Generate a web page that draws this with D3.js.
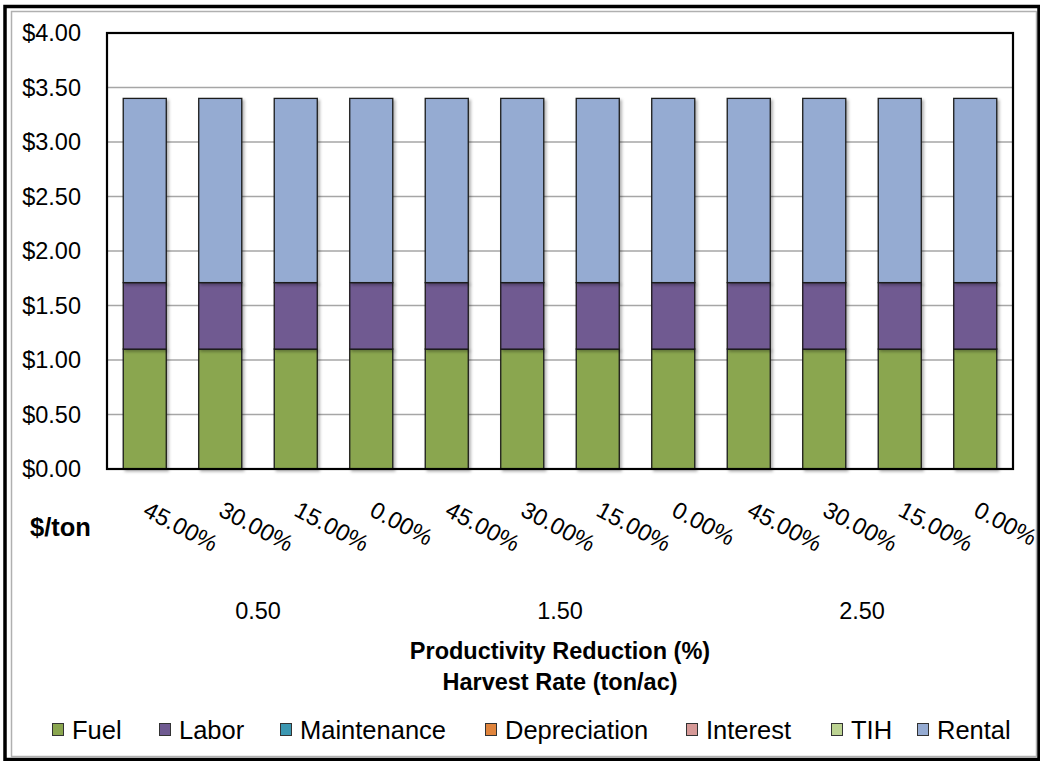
<!DOCTYPE html>
<html><head><meta charset="utf-8">
<script src="https://cdn.jsdelivr.net/npm/d3@7"></script>
<style>
html,body{margin:0;padding:0;background:#fff;}
svg{display:block;font-family:"Liberation Sans",Arial,sans-serif;}
</style></head>
<body>
<svg id="chart" width="1040" height="761"></svg>
<script>
const harvestRates = ["0.50", "1.50", "2.50"];
const reductions = ["45.00%", "30.00%", "15.00%", "0.00%"];
const seriesNames = ["Fuel", "Labor", "Maintenance", "Depreciation", "Interest", "TIH", "Rental"];
const seriesColors = ["#8aa64f", "#6f5a91", "#3b97b1", "#e0843c", "#d69997", "#bcd392", "#95abd2"];
const fuel         = [1.10, 1.10, 1.10, 1.10, 1.10, 1.10, 1.10, 1.10, 1.10, 1.10, 1.10, 1.10];
const labor        = [0.61, 0.61, 0.61, 0.61, 0.61, 0.61, 0.61, 0.61, 0.61, 0.61, 0.61, 0.61];
const maintenance  = [0, 0, 0, 0, 0, 0, 0, 0, 0, 0, 0, 0];
const depreciation = [0, 0, 0, 0, 0, 0, 0, 0, 0, 0, 0, 0];
const interest     = [0, 0, 0, 0, 0, 0, 0, 0, 0, 0, 0, 0];
const tih          = [0, 0, 0, 0, 0, 0, 0, 0, 0, 0, 0, 0];
const rental       = [1.69, 1.69, 1.69, 1.69, 1.69, 1.69, 1.69, 1.69, 1.69, 1.69, 1.69, 1.69];
const yTicks = [0, 0.5, 1, 1.5, 2, 2.5, 3, 3.5, 4];

const seriesValues = [fuel, labor, maintenance, depreciation, interest, tih, rental];
const categories = [];
harvestRates.forEach(h => reductions.forEach(r => categories.push(h + "|" + r)));
const rows = categories.map((c, i) => {
  const o = {cat: c};
  seriesNames.forEach((s, k) => o[s] = seriesValues[k][i]);
  return o;
});

const svg = d3.select("#chart");
const plot = {left: 107, right: 1013, top: 33, bottom: 469};
const FONT = "Liberation Sans, Arial, sans-serif";

// frame
svg.append("rect").attr("x", 11.5).attr("y", 11.5).attr("width", 1025).attr("height", 745)
  .attr("fill", "none").attr("stroke", "#b0b0b0").attr("stroke-width", 1.5);
svg.append("rect").attr("x", 5).attr("y", 6.5).attr("width", 1034).attr("height", 753)
  .attr("fill", "none").attr("stroke", "#000").attr("stroke-width", 3.5);

const defs = svg.append("defs");
const f = defs.append("filter").attr("id", "sh").attr("x", "-20%").attr("y", "-20%").attr("width", "140%").attr("height", "140%");
f.append("feDropShadow").attr("dx", 2).attr("dy", 2).attr("stdDeviation", 1.5).attr("flood-color", "#000").attr("flood-opacity", 0.3);

const x = d3.scaleBand().domain(categories).range([plot.left, plot.right]).paddingInner(0.43).paddingOuter(0.215);
const y = d3.scaleLinear().domain([0, 4]).range([plot.bottom, plot.top]);

// gridlines
svg.append("g").selectAll("line").data(yTicks.filter(t => t > 0 && t < 4)).join("line")
  .attr("x1", plot.left).attr("x2", plot.right)
  .attr("y1", d => y(d)).attr("y2", d => y(d))
  .attr("stroke", "#a6a6a6").attr("stroke-width", 1.5);

// stacks
const stacked = d3.stack().keys(seriesNames)(rows);
const gBars = svg.append("g");
stacked.forEach((layer, k) => {
  gBars.append("g").attr("filter", "url(#sh)").selectAll("rect")
    .data(layer.filter(d => d[1] - d[0] > 0)).join("rect")
    .attr("x", d => x(d.data.cat))
    .attr("width", x.bandwidth())
    .attr("y", d => y(d[1]))
    .attr("height", d => y(d[0]) - y(d[1]))
    .attr("fill", seriesColors[k])
    .attr("stroke", "#1a1a1a").attr("stroke-width", 1.3);
});

// plot border
svg.append("rect").attr("x", plot.left).attr("y", plot.top)
  .attr("width", plot.right - plot.left).attr("height", plot.bottom - plot.top)
  .attr("fill", "none").attr("stroke", "#000").attr("stroke-width", 2.2);

// y axis labels
const yAxis = d3.axisLeft(y).tickValues(yTicks).tickFormat(d => "$" + d3.format(".2f")(d)).tickSize(0).tickPadding(26);
const gy = svg.append("g").attr("transform", `translate(${plot.left},0)`).call(yAxis);
gy.select(".domain").remove();
gy.selectAll("text").attr("font-size", 23.5).attr("fill", "#000").attr("font-family", FONT);

// x tick labels (rotated)
const xAxis = d3.axisBottom(x).tickFormat(d => d.split("|")[1]).tickSize(0);
const gx = svg.append("g").attr("transform", `translate(0,${plot.bottom})`).call(xAxis);
gx.select(".domain").remove();
gx.selectAll(".tick text")
  .attr("font-size", 23.5).attr("fill", "#000").attr("font-family", FONT)
  .attr("text-anchor", "start").attr("dy", 0).attr("y", 0)
  .attr("transform", "translate(-3,46) rotate(28)");

// $/ton
svg.append("text").attr("x", 30).attr("y", 536).attr("font-size", 25.5).attr("font-weight", "bold").text("$/ton");

// group labels
const groupX = d3.scaleBand().domain(harvestRates).range([plot.left, plot.right]);
svg.append("g").selectAll("text").data(harvestRates).join("text")
  .attr("x", d => groupX(d) + groupX.bandwidth() / 2).attr("y", 619)
  .attr("text-anchor", "middle").attr("font-size", 23.5).text(d => d);

// axis titles
svg.append("text").attr("x", 560).attr("y", 659).attr("text-anchor", "middle")
  .attr("font-size", 23.5).attr("font-weight", "bold").text("Productivity Reduction (%)");
svg.append("text").attr("x", 560).attr("y", 690).attr("text-anchor", "middle")
  .attr("font-size", 23.5).attr("font-weight", "bold").text("Harvest Rate (ton/ac)");

// legend
const leg = svg.append("g");
const legStarts = [52, 159, 280, 485, 686, 831, 917];
seriesNames.forEach((s, k) => {
  const g = leg.append("g").attr("transform", `translate(${legStarts[k]},0)`);
  g.append("rect").attr("x", 0.5).attr("y", 723.5).attr("width", 11).attr("height", 12)
    .attr("fill", seriesColors[k]).attr("stroke", "#333").attr("stroke-width", 1);
  g.append("text").attr("x", 20).attr("y", 739).attr("font-size", 25.5).text(s);
});
</script>
</body></html>
